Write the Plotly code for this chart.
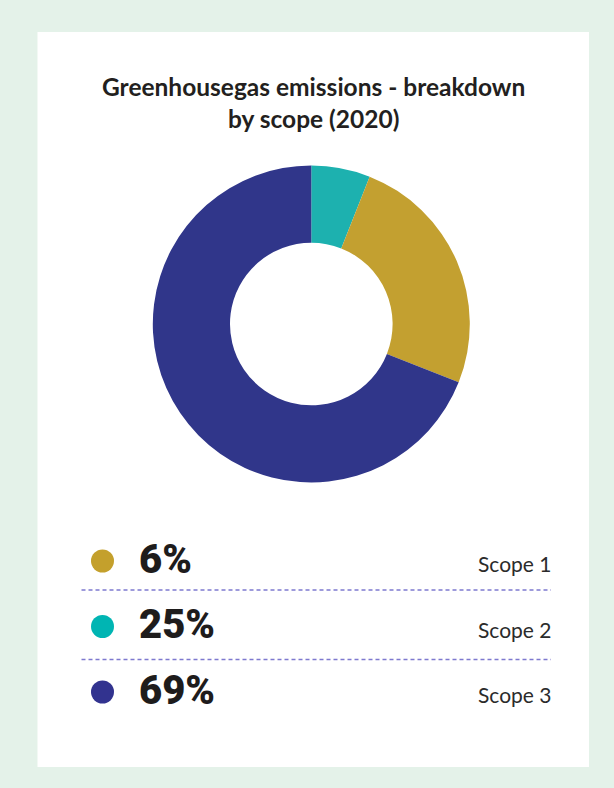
import plotly.graph_objects as go

# ---- data ----
scopes = ["Scope 1", "Scope 2", "Scope 3"]
shares = [6, 25, 69]
slice_colors = ["#1DB1AF", "#C3A030", "#30368A"]   # colours of the donut slices (in drawing order)
legend_colors = ["#C4A02C", "#00B5B3", "#32338F"]  # colours of the legend dots
title_lines = ["Greenhousegas emissions - breakdown", "by scope (2020)"]

W, H = 614, 788

fig = go.Figure()

# donut
cx, cy, r = 311.3, 324.0, 158.5
fig.add_trace(go.Pie(
    values=shares, labels=scopes, sort=False, direction="clockwise", rotation=0,
    hole=0.513, textinfo="none", hoverinfo="label+percent", showlegend=False,
    marker=dict(colors=slice_colors, line=dict(width=0)),
    domain=dict(x=[(cx - r) / W, (cx + r) / W], y=[1 - (cy + r) / H, 1 - (cy - r) / H]),
))

# legend rows (pixel-like overlay axes)
row0, row_step = 561.0, 65.5
rows = [row0 + i * row_step for i in range(len(scopes))]
fig.add_trace(go.Scatter(
    x=[102.5] * len(scopes), y=rows, mode="markers", hoverinfo="skip", showlegend=False,
    marker=dict(size=23, color=legend_colors, line=dict(width=0)),
    xaxis="x", yaxis="y",
))

annotations = []
annotations.append(dict(
    text="<br>".join(title_lines), x=313.5, y=102, xref="x", yref="y",
    xanchor="center", yanchor="middle", showarrow=False, align="center",
    font=dict(family="Lato", size=24.5, color="#231F20", weight="bold"),
))
for i, (sc, v) in enumerate(zip(scopes, shares)):
    annotations.append(dict(
        text=f"{v}%", x=137, y=rows[i] - 2, xref="x", yref="y",
        xanchor="left", yanchor="middle", showarrow=False,
        font=dict(family="Roboto", size=40, color="#1E1C1C", weight=900),
    ))
    annotations.append(dict(
        text=sc, x=554, y=rows[i] + 2.5, xref="x", yref="y",
        xanchor="right", yanchor="middle", showarrow=False,
        font=dict(family="Lato", size=21, color="#2B2B2B", weight="normal"),
    ))

shapes = [
    dict(type="rect", xref="x", yref="y", x0=37.5, x1=589, y0=32, y1=767,
         fillcolor="white", line=dict(width=0), layer="below"),
]
for yl in [590, 659.5]:
    shapes.append(dict(type="line", xref="x", yref="y", x0=81.5, x1=551, y0=yl, y1=yl,
                       line=dict(color="#7E79CF", width=1.3, dash="4px,3px"), layer="below"))

fig.update_layout(
    width=W, height=H, margin=dict(l=0, r=0, t=0, b=0),
    paper_bgcolor="#E4F2E9", plot_bgcolor="rgba(0,0,0,0)",
    xaxis=dict(range=[0, W], domain=[0, 1], visible=False, fixedrange=True),
    yaxis=dict(range=[H, 0], domain=[0, 1], visible=False, fixedrange=True),
    shapes=shapes, annotations=annotations,
)

fig.write_html("out.html")
